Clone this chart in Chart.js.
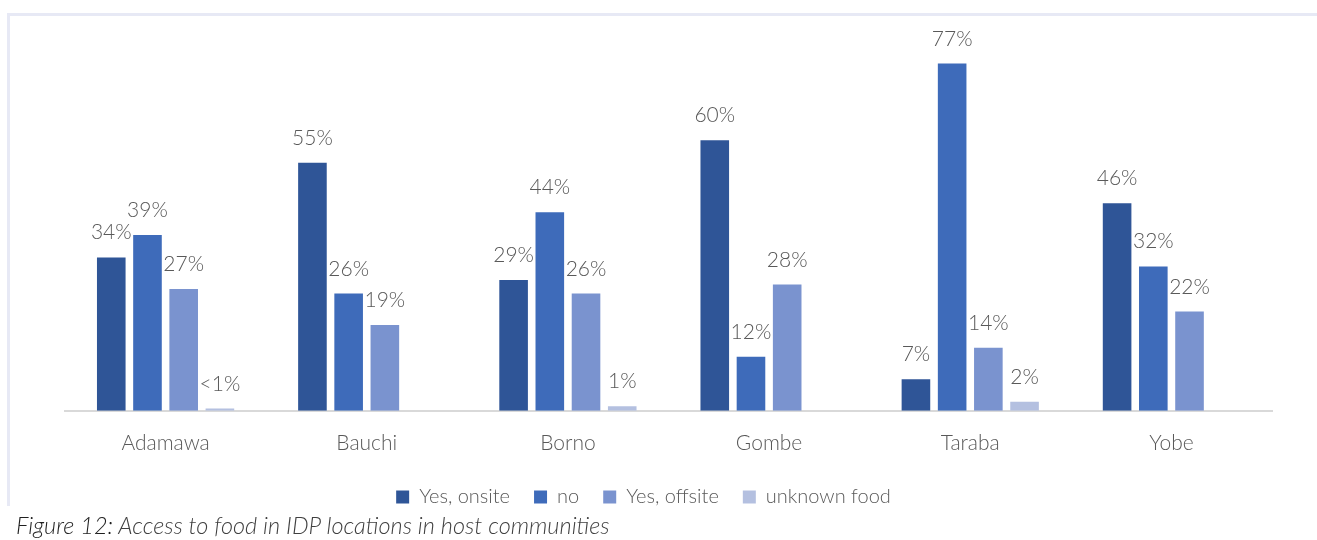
<!DOCTYPE html>
<html>
<head>
<meta charset="utf-8">
<title>Access to food</title>
<script src="https://cdn.jsdelivr.net/npm/chart.js@4.4.1/dist/chart.umd.min.js"></script>
<style>
  body { margin: 0; background: #fff; width: 1317px; height: 540px; overflow: hidden; position: relative; font-family: Lato, "Open Sans", sans-serif; }
  #frame { position: absolute; left: 7px; top: 13px; width: 1320px; height: 490px; border-top: 3px solid #e7e9f5; border-left: 3px solid #e7e9f5; }
  #chart { position: absolute; left: 0; top: 0; }
  #caption { position: absolute; left: 16px; top: 513px; line-height: 24px; font-size: 23.5px; font-style: italic; font-weight: 300; color: #404040; white-space: nowrap; }
  #caption span { color: #1f1f1f; }
</style>
</head>
<body>
<div id="frame"></div>
<canvas id="chart" width="1317" height="540"></canvas>
<div id="caption"><span>Figure 12:</span> Access to food in IDP locations in host communities</div>
<script>
const states = ["Adamawa", "Bauchi", "Borno", "Gombe", "Taraba", "Yobe"];
const yesOnsite = [34, 55, 29, 60, 7, 46];
const no = [39, 26, 44, 12, 77, 32];
const yesOffsite = [27, 19, 26, 28, 14, 22];
const unknownFood = [0.5, null, 1, null, 2, null]; // Adamawa is under 1%

const textColor = "#595959";
const fontFamily = "Lato, 'Open Sans', sans-serif";

// percent labels above each bar
const barLabels = {
    id: "barLabels",
    afterDatasetsDraw(chart) {
        const ctx = chart.ctx;
        ctx.save();
        ctx.font = "300 21px " + fontFamily;
        ctx.fillStyle = textColor;
        ctx.textAlign = "center";
        ctx.textBaseline = "alphabetic";
        chart.data.datasets.forEach((ds, i) => {
            chart.getDatasetMeta(i).data.forEach((bar, j) => {
                const v = ds.data[j];
                if (v === null) return;
                const txt = v < 1 ? "<1%" : v + "%";
                ctx.fillText(txt, bar.x, bar.y - 18);
            });
        });
        ctx.restore();
    }
};

// nudge the legend a bit left of the plot centre
const shiftLegend = {
    id: "shiftLegend",
    afterLayout(chart) {
        chart.legend.left -= 25;
        chart.legend.right -= 25;
    }
};

new Chart(document.getElementById("chart"), {
    type: "bar",
    data: {
        labels: states,
        datasets: [
            { label: "Yes, onsite", data: yesOnsite, backgroundColor: "#2f5597" },
            { label: "no", data: no, backgroundColor: "#3e6bba" },
            { label: "Yes, offsite", data: yesOffsite, backgroundColor: "#7a93cf" },
            { label: "unknown food", data: unknownFood, backgroundColor: "#b4c0e0" }
        ]
    },
    options: {
        responsive: false,
        animation: false,
        layout: { padding: { left: 65, right: 45, top: 50, bottom: 23 } },
        datasets: {
            bar: { categoryPercentage: 0.72, barPercentage: 0.79 }
        },
        plugins: {
            legend: {
                position: "bottom",
                labels: {
                    boxWidth: 13,
                    boxHeight: 13,
                    padding: 24,
                    color: textColor,
                    font: { family: fontFamily, size: 20, weight: 300 }
                }
            },
            tooltip: { enabled: false }
        },
        scales: {
            x: {
                grid: { display: false, drawTicks: false },
                border: { display: true, color: "#d9d9d9", width: 2 },
                ticks: {
                    padding: 20,
                    color: textColor,
                    font: { family: fontFamily, size: 21, weight: 300 }
                },
                afterFit: (scale) => { scale.height -= 13; }
            },
            y: {
                display: false,
                min: 0,
                max: 80
            }
        }
    },
    plugins: [barLabels, shiftLegend]
});
</script>
</body>
</html>
